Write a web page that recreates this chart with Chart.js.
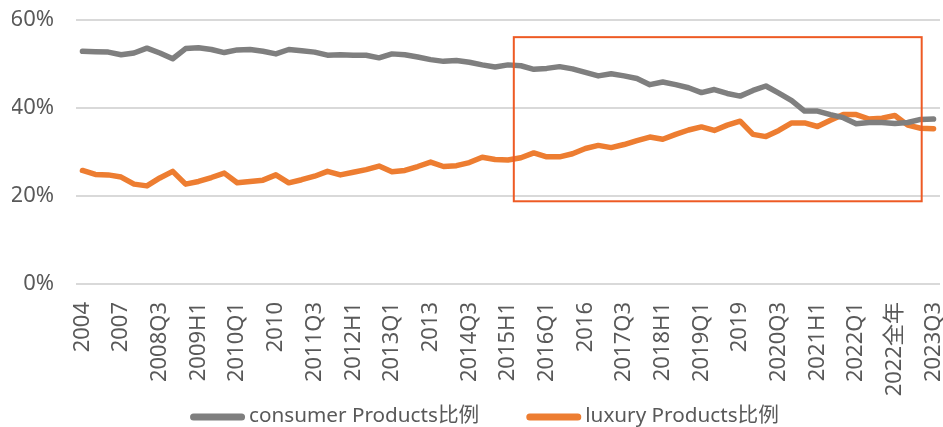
<!DOCTYPE html>
<html>
<head>
<meta charset="utf-8">
<script src="https://cdn.jsdelivr.net/npm/chart.js@4"></script>
<style>
  html, body { margin: 0; padding: 0; background: #fff; }
  #wrap { width: 943px; height: 427px; }
</style>
</head>
<body>
<div id="wrap"><canvas id="ratioChart"></canvas></div>
<script>
// periods: 2004-2007 yearly, then Q1 / H1 / Q3 / full year from 2008
const periods = [
  '2004', '2005', '2006', '2007',
  '2008Q1', '2008H1', '2008Q3', '2008',
  '2009Q1', '2009H1', '2009Q3', '2009',
  '2010Q1', '2010H1', '2010Q3', '2010',
  '2011Q1', '2011H1', '2011Q3', '2011',
  '2012Q1', '2012H1', '2012Q3', '2012',
  '2013Q1', '2013H1', '2013Q3', '2013',
  '2014Q1', '2014H1', '2014Q3', '2014',
  '2015Q1', '2015H1', '2015Q3', '2015',
  '2016Q1', '2016H1', '2016Q3', '2016',
  '2017Q1', '2017H1', '2017Q3', '2017',
  '2018Q1', '2018H1', '2018Q3', '2018',
  '2019Q1', '2019H1', '2019Q3', '2019',
  '2020Q1', '2020H1', '2020Q3', '2020',
  '2021Q1', '2021H1', '2021Q3', '2021',
  '2022Q1', '2022H1', '2022Q3', '2022全年',
  '2023Q1', '2023H1', '2023Q3'
]

const consumerShare = [
  52.9, 52.8, 52.7, 52.1, 52.5, 53.6, 52.5, 51.2, 53.5, 53.7,
  53.3, 52.6, 53.2, 53.3, 52.9, 52.3, 53.3, 53.0, 52.7, 52.0,
  52.1, 52.0, 52.0, 51.4, 52.3, 52.1, 51.6, 51.0, 50.6, 50.8,
  50.4, 49.8, 49.3, 49.8, 49.6, 48.8, 49.0, 49.4, 48.9, 48.1,
  47.3, 47.8, 47.3, 46.7, 45.3, 45.9, 45.3, 44.6, 43.5, 44.2,
  43.3, 42.7, 44.0, 45.0, 43.4, 41.7, 39.3, 39.3, 38.5, 37.8,
  36.4, 36.7, 36.7, 36.5, 36.7, 37.4, 37.5
]

const luxuryShare = [
  25.8, 24.9, 24.8, 24.3, 22.7, 22.3, 24.1, 25.6, 22.7, 23.3,
  24.2, 25.2, 23.0, 23.3, 23.6, 24.8, 23.0, 23.7, 24.5, 25.6,
  24.8, 25.4, 26.0, 26.8, 25.5, 25.8, 26.7, 27.7, 26.7, 26.9,
  27.6, 28.8, 28.3, 28.2, 28.7, 29.8, 28.9, 28.9, 29.6, 30.8,
  31.5, 31.0, 31.7, 32.6, 33.4, 32.9, 34.0, 35.0, 35.7, 34.9,
  36.1, 37.0, 34.0, 33.5, 34.9, 36.6, 36.6, 35.8, 37.2, 38.5,
  38.5, 37.5, 37.7, 38.3, 36.1, 35.4, 35.3
]

const yTicks = [0, 20, 40, 60]

// highlight box: from between 2015H1/2015Q3 to 2023H1, 18.8% .. 56.1%
const boxFrom = 33.45
const boxTo = 65.08
const boxTop = 56.1
const boxBottom = 18.8

const fontFamily = "'Noto Sans', 'Noto Sans CJK SC', sans-serif"
const textColor = '#595959'

const highlightBox = {
  id: 'highlightBox',
  afterDatasetsDraw(chart) {
    const { ctx, scales: { x, y } } = chart
    const left = x.getPixelForValue(boxFrom)
    const right = x.getPixelForValue(boxTo)
    const top = y.getPixelForValue(boxTop)
    const bottom = y.getPixelForValue(boxBottom)
    ctx.save()
    ctx.strokeStyle = '#EE5A24'
    ctx.lineWidth = 2
    ctx.strokeRect(left, top, right - left, bottom - top)
    ctx.restore()
  }
}

// legend drawn by hand: short thick line + label, like the excel one
const lineLegend = {
  id: 'lineLegend',
  afterDraw(chart) {
    const { ctx } = chart
    const swatch = 55, gapText = 4, gapItem = 47
    const baseY = chart.height - 5
    ctx.save()
    ctx.font = `20.7px ${fontFamily}`
    const items = chart.data.datasets.map(ds => ({
      text: ds.label, color: ds.borderColor, w: ctx.measureText(ds.label).width
    }))
    const total = items.reduce((s, it) => s + swatch + gapText + it.w, 0) + gapItem * (items.length - 1)
    let x = 484.5 - total / 2
    items.forEach(it => {
      ctx.strokeStyle = it.color
      ctx.lineWidth = 7
      ctx.lineCap = 'round'
      ctx.beginPath()
      ctx.moveTo(x + 3.5, baseY - 5)
      ctx.lineTo(x + swatch - 3.5, baseY - 5)
      ctx.stroke()
      ctx.fillStyle = textColor
      ctx.textBaseline = 'alphabetic'
      ctx.fillText(it.text, x + swatch + gapText, baseY)
      x += swatch + gapText + it.w + gapItem
    })
    ctx.restore()
  }
}

const ctx = document.getElementById('ratioChart')

new Chart(ctx, {
  type: 'line',
  data: {
    labels: periods,
    datasets: [
      {
        label: 'consumer Products比例',
        data: consumerShare,
        borderColor: '#7F7F7F',
        backgroundColor: '#7F7F7F',
        borderWidth: 5.5,
        pointRadius: 0,
        tension: 0,
        borderJoinStyle: 'round',
        borderCapStyle: 'round'
      },
      {
        label: 'luxury Products比例',
        data: luxuryShare,
        borderColor: '#ED7D31',
        backgroundColor: '#ED7D31',
        borderWidth: 5.5,
        pointRadius: 0,
        tension: 0,
        borderJoinStyle: 'round',
        borderCapStyle: 'round'
      }
    ]
  },
  options: {
    responsive: true,
    maintainAspectRatio: false,
    animation: false,
    layout: { padding: { left: 12, right: 3, top: 20, bottom: 30 } },
    plugins: {
      tooltip: { enabled: false },
      legend: { display: false }
    },
    scales: {
      x: {
        offset: true,
        grid: { display: false, drawTicks: false },
        border: { display: false },
        ticks: {
          autoSkip: false,
          minRotation: 90,
          maxRotation: 90,
          padding: 18,
          color: textColor,
          font: { family: fontFamily, size: 22 },
          callback: (v, i) => (i % 3 === 0 ? periods[i] : '')
        },
        afterFit: axis => {
          axis.height = 113
          axis.paddingLeft = 0
          axis.paddingRight = 0
        }
      },
      y: {
        min: 0,
        max: 60,
        afterBuildTicks: axis => { axis.ticks = yTicks.map(v => ({ value: v })) },
        grid: { color: '#D9D9D9', lineWidth: 2, drawTicks: false },
        border: { display: false },
        ticks: {
          padding: 22,
          color: textColor,
          font: { family: fontFamily, size: 22 },
          callback: v => v + '%'
        },
        afterFit: axis => {
          axis.width = 64
          axis.paddingTop = 0
          axis.paddingBottom = 0
        }
      }
    }
  },
  plugins: [highlightBox, lineLegend]
})
</script>
</body>
</html>
